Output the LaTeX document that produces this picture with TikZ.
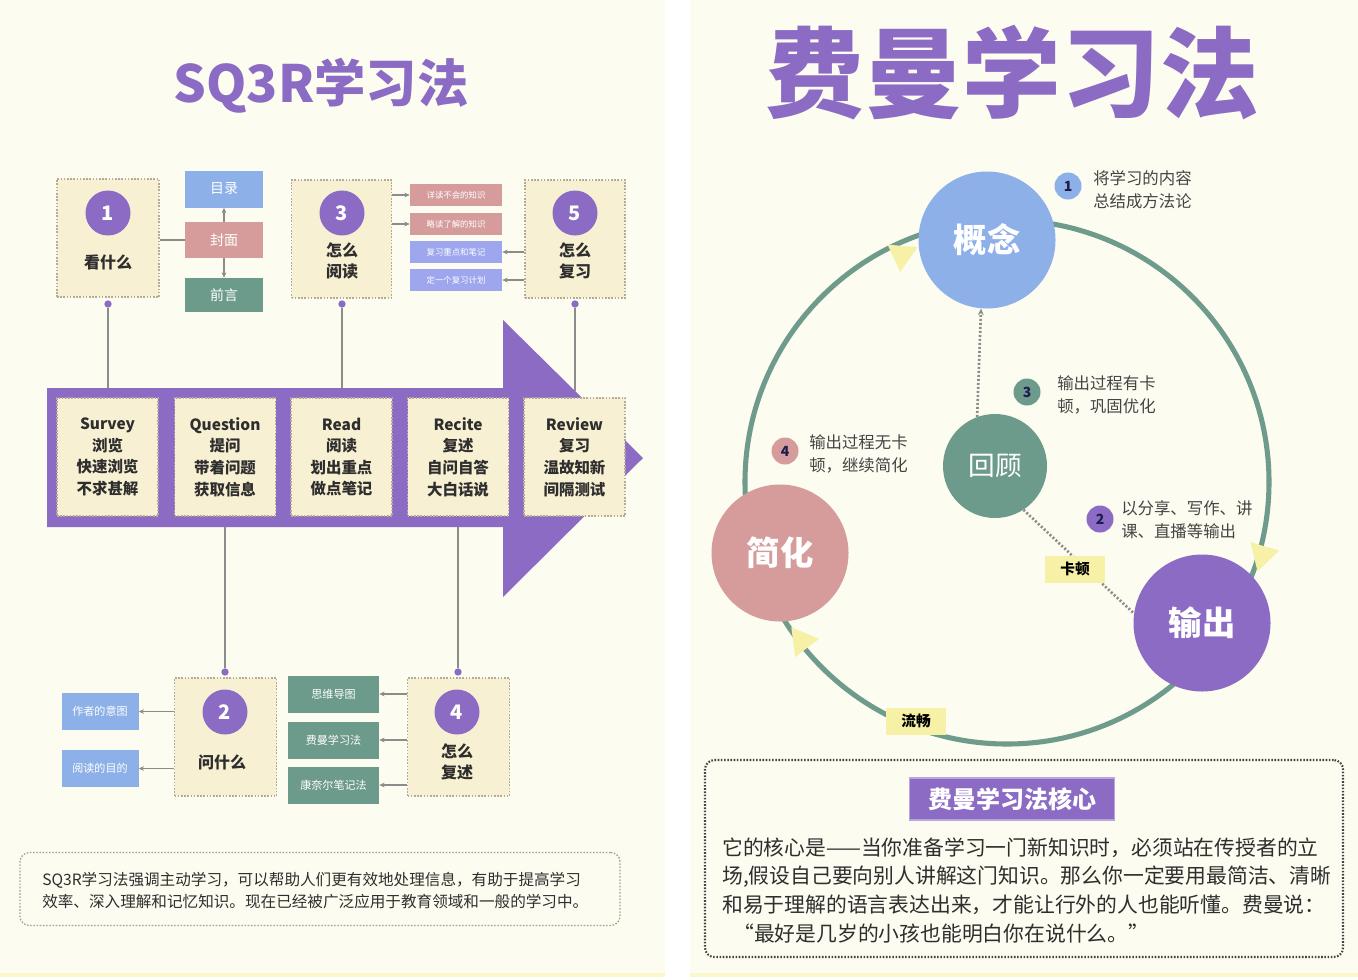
\documentclass[tikz,border=0pt]{standalone}
\usepackage{fontspec}
\setmainfont{Noto Sans CJK SC}
\usetikzlibrary{arrows.meta}
\definecolor{bg}{HTML}{FCFCF0}
\definecolor{beige}{HTML}{F7F0D2}
\definecolor{pur}{HTML}{8B6BC4}
\definecolor{blu}{HTML}{8DB0E8}
\definecolor{pnk}{HTML}{D69C9C}
\definecolor{grn}{HTML}{6C9A8B}
\definecolor{lav}{HTML}{9EA7EE}
\definecolor{yel}{HTML}{F6F1A6}
\definecolor{txt}{HTML}{2E2E2E}
\definecolor{txtb}{HTML}{444444}
\definecolor{dotc}{HTML}{B3AB98}
\definecolor{linec}{HTML}{8C8C8C}
\definecolor{arcc}{HTML}{6E9B8B}
\definecolor{navy}{HTML}{1C1C50}
\newcommand{\myfs}[2]{\fontsize{#1}{#2}\selectfont}
\begin{document}
\begin{tikzpicture}[x=0.75pt,y=-0.75pt,
  sz/.style 2 args={minimum width=#1*0.75pt,minimum height=#2*0.75pt},
  stepbox/.style={draw=dotc,fill=beige,line width=1pt,dash pattern=on 1.2pt off 1.2pt,inner sep=0pt},
  numc/.style={circle,fill=pur,inner sep=0pt,minimum size=45*0.75pt,text=white,font=\bfseries\myfs{15}{15}},
  lbl/.style={inner sep=0pt,text=txt,align=center,font=\bfseries\myfs{12}{15.8}},
  tag/.style={inner sep=0pt,text=white,font=\myfs{10.5}{11}},
  tinytag/.style={inner sep=0pt,text=white,font=\myfs{6.3}{7}},
  smalltag/.style={inner sep=0pt,text=white,font=\myfs{8.3}{9}},
  conn/.style={draw=linec,line width=0.8pt},
  tip/.style={-{Stealth[length=4pt,width=3.5pt]}},
  dot/.style={circle,fill=pur,inner sep=0pt,minimum size=5.5pt},
  bigc/.style={circle,inner sep=0pt,minimum size=137*0.75pt,text=white,font=\bfseries\myfs{25}{25}},
  badge/.style={circle,inner sep=0pt,minimum size=27*0.75pt,text=navy,font=\bfseries\myfs{10.5}{11}},
  note/.style={anchor=west,inner sep=0pt,align=left,text=txtb,font=\myfs{12.3}{17.2}},
  ylab/.style={fill=yel,inner sep=0pt,sz={60}{27},text=black,font=\bfseries\myfs{11}{11}},
  dotl/.style={draw=linec,line width=2pt,dash pattern=on 1.5pt off 1.5pt},
  body/.style={anchor=west,inner sep=0pt,text=txt,font=\myfs{15.6}{16}}
]
\useasboundingbox (0,0) rectangle (1358,979);
\fill[white] (0,0) rectangle (1358,979);
\fill[bg] (0,0) rectangle (665,973);
\fill[bg] (690,0) rectangle (1358,973);
\fill[yel!60] (0,973) rectangle (665,977);
\fill[yel!60] (690,973) rectangle (1358,977);

% ================= LEFT: SQ3R =================
\node[inner sep=0pt,text=pur,font=\bfseries\myfs{38.5}{39}] (t1) at (321,86) {SQ3R学习法};

% big arrow
\fill[pur] (47,388) -- (503,388) -- (503,320) -- (643,458) -- (503,597) -- (503,527) -- (47,527) -- cycle;
\coordinate (bt1) at (108,388);
\coordinate (bt3) at (342,388);
\coordinate (bt5) at (575,391);
\coordinate (bb2) at (225,527);
\coordinate (bb4) at (458,527);

% step boxes in arrow
\node[stepbox,sz={101}{118}] (s1) at (107.5,457) {};
\node[stepbox,sz={101}{118}] (s2) at (225,457) {};
\node[stepbox,sz={101}{118}] (s3) at (341.5,457) {};
\node[stepbox,sz={101}{118}] (s4) at (458,457) {};
\node[stepbox,sz={101}{118}] (s5) at (574.5,457) {};
\node[lbl,font=\bfseries\myfs{11.6}{16.2}] (s1t) at (s1) {Survey\\浏览\\快速浏览\\不求甚解};
\node[lbl,font=\bfseries\myfs{11.6}{16.2}] (s2t) at (s2) {Question\\提问\\带着问题\\获取信息};
\node[lbl,font=\bfseries\myfs{11.6}{16.2}] (s3t) at (s3) {Read\\阅读\\划出重点\\做点笔记};
\node[lbl,font=\bfseries\myfs{11.6}{16.2}] (s4t) at (s4) {Recite\\复述\\自问自答\\大白话说};
\node[lbl,font=\bfseries\myfs{11.6}{16.2}] (s5t) at (s5) {Review\\复习\\温故知新\\间隔测试};

% box 1
\node[stepbox,sz={102}{118}] (b1) at (108,238) {};
\node[numc] (n1) at (108,213) {1};
\node[lbl] (l1) at (108,262) {看什么};
\node[tag,fill=blu,sz={78}{37}] (ml) at (224,189) {目录};
\node[tag,fill=pnk,sz={78}{36}] (fm) at (224,240) {封面};
\node[tag,fill=grn,sz={78}{34}] (qy) at (224,295) {前言};
\draw[conn] (b1.east |- fm) -- (fm.west);
\draw[conn,tip] (fm.north) -- (ml.south);
\draw[conn,tip] (fm.south) -- (qy.north);
\node[dot] (d1) at (108,304) {};
\draw[conn] (d1) -- (bt1);

% box 3
\node[stepbox,sz={100}{118}] (b3) at (341.5,239) {};
\node[numc] (n3) at (342,213) {3};
\node[lbl] (l3) at (342,261) {怎么\\阅读};
\node[tinytag,fill=pnk,sz={92}{22}] (r1) at (456,195) {详读不会的知识};
\node[tinytag,fill=pnk,sz={92}{22}] (r2) at (456,224) {略读了解的知识};
\node[tinytag,fill=lav,sz={92}{22}] (r3) at (456,252) {复习重点和笔记};
\node[tinytag,fill=lav,sz={92}{22}] (r4) at (456,280) {定一个复习计划};
\draw[conn,tip] (b3.east |- r1) -- (r1.west);
\draw[conn,tip] (b3.east |- r2) -- (r2.west);
\node[dot] (d3) at (342,304) {};
\draw[conn] (d3) -- (bt3);

% box 5
\node[stepbox,sz={100}{118}] (b5) at (575,239) {};
\node[numc] (n5) at (575,213) {5};
\node[lbl] (l5) at (575,261) {怎么\\复习};
\draw[conn,tip] (b5.west |- r3) -- (r3.east);
\draw[conn,tip] (b5.west |- r4) -- (r4.east);
\node[dot] (d5) at (575,304) {};
\draw[conn] (d5) -- (bt5);

% box 2
\node[stepbox,sz={102}{118}] (b2) at (225.5,737) {};
\node[numc] (n2) at (225,712) {2};
\node[lbl] (l2) at (222,762) {问什么};
\node[smalltag,fill=blu,sz={77}{37}] (a1) at (100,711.5) {作者的意图};
\node[smalltag,fill=blu,sz={77}{37}] (a2) at (100,768.5) {阅读的目的};
\draw[conn,tip] (b2.west |- a1) -- (a1.east);
\draw[conn,tip] (b2.west |- a2) -- (a2.east);
\node[dot] (d2) at (225,672) {};
\draw[conn] (bb2) -- (d2);

% box 4
\node[stepbox,sz={102}{118}] (b4) at (458.5,737) {};
\node[numc] (n4) at (457,712) {4};
\node[lbl] (l4) at (457,762) {怎么\\复述};
\node[smalltag,fill=grn,sz={91}{37}] (g1) at (333.5,694) {思维导图};
\node[smalltag,fill=grn,sz={91}{37}] (g2) at (333.5,740) {费曼学习法};
\node[smalltag,fill=grn,sz={91}{37}] (g3) at (333.5,785) {康奈尔笔记法};
\draw[conn,tip] (b4.west |- g1) -- (g1.east);
\draw[conn,tip] (b4.west |- g2) -- (g2.east);
\draw[conn,tip] (b4.west |- g3) -- (g3.east);
\node[dot] (d4) at (458,672) {};
\draw[conn] (bb4) -- (d4);

% summary
\node[draw=dotc!80!gray,line width=1pt,dash pattern=on 1.2pt off 1.2pt,rounded corners=7pt,sz={600}{73},inner sep=0pt] (sb) at (320,889) {};
\node[anchor=west,inner sep=0pt,text=txt,font=\myfs{11.7}{12}] (sb1) at (42,880) {SQ3R学习法强调主动学习，可以帮助人们更有效地处理信息，有助于提高学习};
\node[anchor=west,inner sep=0pt,text=txt,font=\myfs{11.7}{12}] (sb2) at (42,902) {效率、深入理解和记忆知识。现在已经被广泛应用于教育领域和一般的学习中。};

% ================= RIGHT: Feynman =================
\node[inner sep=0pt,text=pur,font=\bfseries\myfs{74}{74}] (t2) at (1012,73) {费曼学习法};

\draw[arcc,line width=3.8pt] (1007,482) circle (262);
% direction triangles
\fill[yel] (917.5,247.3) -- (900.2,271.8) -- (887.6,244.6) -- cycle;
\fill[yel] (1257.5,571.4) -- (1279.2,550.6) -- (1250.4,542.2) -- cycle;
\fill[yel] (791.3,627.3) -- (819,638.8) -- (795.2,657) -- cycle;

\node[bigc,fill=blu] (gn) at (987,240) {概念};
\node[bigc,fill=pnk] (jh) at (780,553) {简化};
\node[bigc,fill=pur] (sc) at (1202,623) {输出};
\node[circle,inner sep=0pt,minimum size=104*0.75pt,fill=grn,text=white,font=\myfs{20}{20}] (hg) at (995,466) {回顾};

\draw[dotl,-{Stealth[length=5pt,width=4.5pt]}] (hg.110) -- (gn.265);
\draw[dotl] (hg.-57) -- (sc.172);
\node[ylab] (kd) at (1075,569) {卡顿};
\node[ylab] (lc) at (916,721) {流畅};

\node[badge,fill=blu] (k1) at (1068,186) {1};
\node[note] (k1t) at (1093,190) {将学习的内容\\总结成方法论};
\node[badge,fill=grn] (k3) at (1027,392) {3};
\node[note] (k3t) at (1057,395) {输出过程有卡\\顿，巩固优化};
\node[badge,fill=pnk] (k4) at (785,451) {4};
\node[note] (k4t) at (809,454) {输出过程无卡\\顿，继续简化};
\node[badge,fill=pur] (k2) at (1100,519) {2};
\node[note] (k2t) at (1121,520) {以分享、写作、讲\\课、直播等输出};

% core box
\node[draw=txtb,line width=1.6pt,dash pattern=on 1.2pt off 1.2pt,rounded corners=7pt,sz={638}{197},inner sep=0pt] (fb) at (1024,858.5) {};
\node[fill=pur,draw=pur!60,line width=0.8pt,sz={205}{42},inner sep=0pt,text=white,font=\bfseries\myfs{18}{18}] (ftl) at (1012,799) {费曼学习法核心};
\node[body] (p1) at (722,848) {它的核心是——当你准备学习一门新知识时，必须站在传授者的立};
\node[body] (p2) at (722,877) {场,假设自己要向别人讲解这门知识。那么你一定要用最简洁、清晰};
\node[body] (p3) at (722,905) {和易于理解的语言表达出来，才能让行外的人也能听懂。费曼说：};
\node[body] (p4) at (733,934) {“最好是几岁的小孩也能明白你在说什么。”};
\end{tikzpicture}
\end{document}
